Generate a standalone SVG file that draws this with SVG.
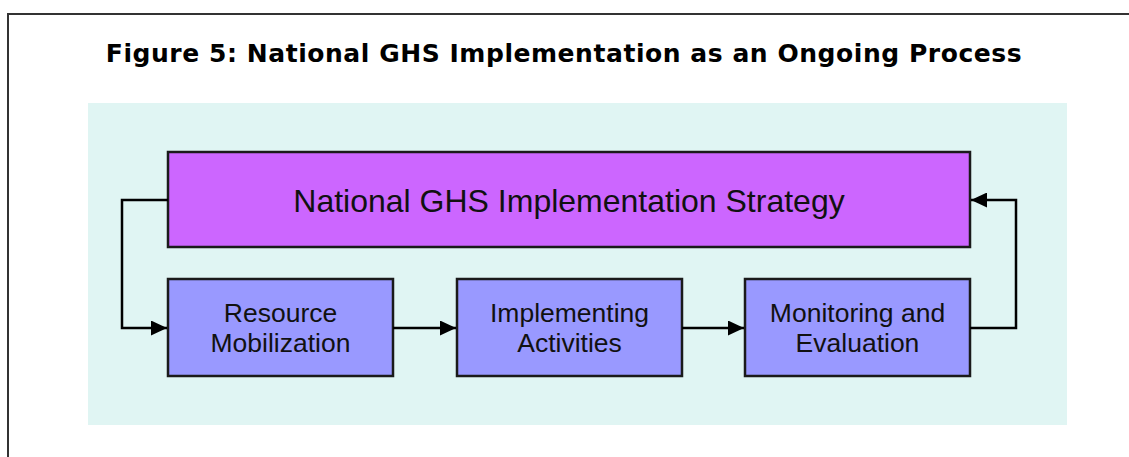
<svg xmlns="http://www.w3.org/2000/svg" width="1129" height="457" viewBox="0 0 1129 457">
<defs>
<style>
.box{stroke:#1a1a1a;stroke-width:2.5}
.strat{fill:#CC66FF}
.step{fill:#9999FF}
.lbl{font-family:"Liberation Sans",Arial,sans-serif;fill:#111;text-anchor:middle}
.conn{fill:none;stroke:#000;stroke-width:2.5}
</style>
<marker id="ah" markerWidth="16" markerHeight="15" refX="16" refY="7.5" orient="auto" markerUnits="userSpaceOnUse">
<path d="M0,0 L16,7.5 L0,15 Z" fill="#000"/>
</marker>
</defs>
<rect x="0" y="0" width="1129" height="457" fill="#fff"/>
<rect x="8" y="14" width="1140" height="460" fill="none" stroke="#333" stroke-width="2"/>
<text x="564" y="62" font-family="'DejaVu Sans',Verdana,sans-serif" font-weight="bold" font-size="25" letter-spacing="0.55" text-anchor="middle" fill="#000">Figure 5: National GHS Implementation as an Ongoing Process</text>
<rect x="88" y="103" width="979" height="322" fill="#E0F5F3"/>
<g id="strategy">
<rect class="box strat" x="168" y="152" width="802" height="95"/>
<text class="lbl" x="569" y="212" font-size="32">National GHS Implementation Strategy</text>
</g>
<g id="resource">
<rect class="box step" x="168" y="279" width="225" height="97"/>
<text class="lbl" x="280.5" y="322" font-size="26.5">Resource</text>
<text class="lbl" x="280.5" y="352" font-size="26.5">Mobilization</text>
</g>
<g id="implementing">
<rect class="box step" x="457" y="279" width="225" height="97"/>
<text class="lbl" x="569.5" y="322" font-size="26.5">Implementing</text>
<text class="lbl" x="569.5" y="352" font-size="26.5">Activities</text>
</g>
<g id="monitoring">
<rect class="box step" x="745" y="279" width="225" height="97"/>
<text class="lbl" x="857.5" y="322" font-size="26.5">Monitoring and</text>
<text class="lbl" x="857.5" y="352" font-size="26.5">Evaluation</text>
</g>
<g id="connectors">
<path class="conn" d="M168,200 H122 V328 H167" marker-end="url(#ah)"/>
<path class="conn" d="M393,328 H456" marker-end="url(#ah)"/>
<path class="conn" d="M682,328 H744" marker-end="url(#ah)"/>
<path class="conn" d="M970,328 H1016 V200 H971" marker-end="url(#ah)"/>
</g>
</svg>
